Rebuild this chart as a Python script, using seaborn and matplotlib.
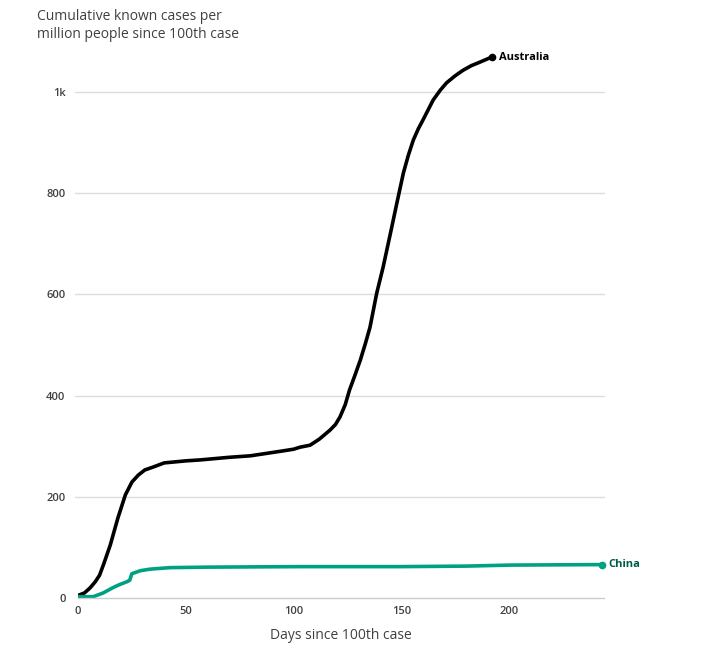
import matplotlib
matplotlib.use("Agg")
import matplotlib.pyplot as plt
import seaborn as sns
import pandas as pd

# Data
aus_days = [0, 3, 5.6, 8, 10, 12, 15, 18.5, 22, 25, 28, 31, 35, 40, 50, 57, 70, 80, 94, 100, 103,
            107.7, 112, 117, 119.5, 121.6, 124, 126, 128.5, 131, 133.3, 135.5, 138.6, 141.6, 145,
            148, 151, 153.3, 155.6, 158, 160, 164.8, 168, 171, 175, 178.7, 182.5, 186.5, 192]
aus_vals = [5, 10, 20, 32, 45, 68, 105, 158, 204, 229, 243, 253, 259, 267, 271, 273, 278, 281, 290,
            294, 298, 302, 314, 332, 343, 358, 382, 411, 440, 470, 502, 535, 602, 654, 721,
            781, 840, 875, 905, 928, 944, 984, 1003, 1018, 1032, 1043, 1052, 1059, 1069]
china_days = [0, 7, 11.7, 16, 19, 22.6, 24, 25, 29, 33.4, 42.7, 60, 103, 150, 180, 200, 220, 243]
china_vals = [2.5, 2.5, 10, 20, 26, 32, 35, 48, 54, 57, 60, 61, 62, 62, 63, 65, 65.5, 66]

y_ticks = [0, 200, 400, 600, 800, 1000]
y_tick_labels = ["0", "200", "400", "600", "800", "1k"]
x_ticks = [0, 50, 100, 150, 200]

AUS_COLOR = "#000000"
CHINA_COLOR = "#00a183"
CHINA_TEXT = "#005c45"
TEXT_GRAY = "#404040"

sns.set_theme(style="white")
plt.rcParams['font.family'] = ['Open Sans', 'DejaVu Sans']

df = pd.concat([
    pd.DataFrame({"day": aus_days, "value": aus_vals, "country": "Australia"}),
    pd.DataFrame({"day": china_days, "value": china_vals, "country": "China"}),
])

fig = plt.figure(figsize=(7.18, 6.51), dpi=100)
left = 78 / 718
right = 603.8 / 718
bottom = (651 - 598) / 651
top_px = 598 - 1100 * 0.506
top = 1 - top_px / 651
ax = fig.add_axes([left, bottom, right - left, top - bottom])

sns.lineplot(data=df, x="day", y="value", hue="country",
             palette={"Australia": AUS_COLOR, "China": CHINA_COLOR},
             linewidth=2.6, ax=ax, legend=False, sort=False)
for ln in ax.get_lines():
    ln.set_solid_joinstyle("round")
    ln.set_solid_capstyle("round")

ax.set_xlim(0, 244)
ax.set_ylim(0, 1100)

# grid
ax.set_yticks(y_ticks)
ax.set_yticklabels(y_tick_labels)
ax.set_xticks(x_ticks)
for v in y_ticks[1:]:
    ax.axhline(v, color="#dcdcdc", linewidth=1, zorder=0, xmin=-0.006, clip_on=False)
for s in ["top", "right", "left"]:
    ax.spines[s].set_visible(False)
ax.spines["bottom"].set_color("#cccccc")
ax.spines["bottom"].set_linewidth(1)
ax.tick_params(axis="y", length=0, pad=9, labelsize=8, labelcolor=TEXT_GRAY)
ax.tick_params(axis="x", length=0, pad=6, labelsize=8, labelcolor=TEXT_GRAY)
for lab in ax.get_xticklabels() + ax.get_yticklabels():
    lab.set_fontweight("semibold")

ax.set_xlabel("Days since 100th case", fontsize=10, color=TEXT_GRAY, labelpad=8)
ax.set_ylabel("")

# end markers and labels
ax.plot([aus_days[-1]], [aus_vals[-1]], "o", color=AUS_COLOR, markersize=4.5)
ax.plot([china_days[-1]], [china_vals[-1]], "o", color=CHINA_COLOR, markersize=4.5, clip_on=False)
ax.annotate("Australia", (aus_days[-1], aus_vals[-1]), xytext=(5, 0), textcoords="offset points",
            va="center", ha="left", fontsize=8, fontweight="bold", color=AUS_COLOR)
ax.annotate("China", (china_days[-1], china_vals[-1]), xytext=(5, 0), textcoords="offset points",
            va="center", ha="left", fontsize=8, fontweight="bold", color=CHINA_TEXT,
            annotation_clip=False)

fig.text(37 / 718, 1 - 9 / 651, "Cumulative known cases per\nmillion people since 100th case",
         ha="left", va="top", fontsize=10, color=TEXT_GRAY, linespacing=1.25)

fig.savefig("out.png", dpi=100)
